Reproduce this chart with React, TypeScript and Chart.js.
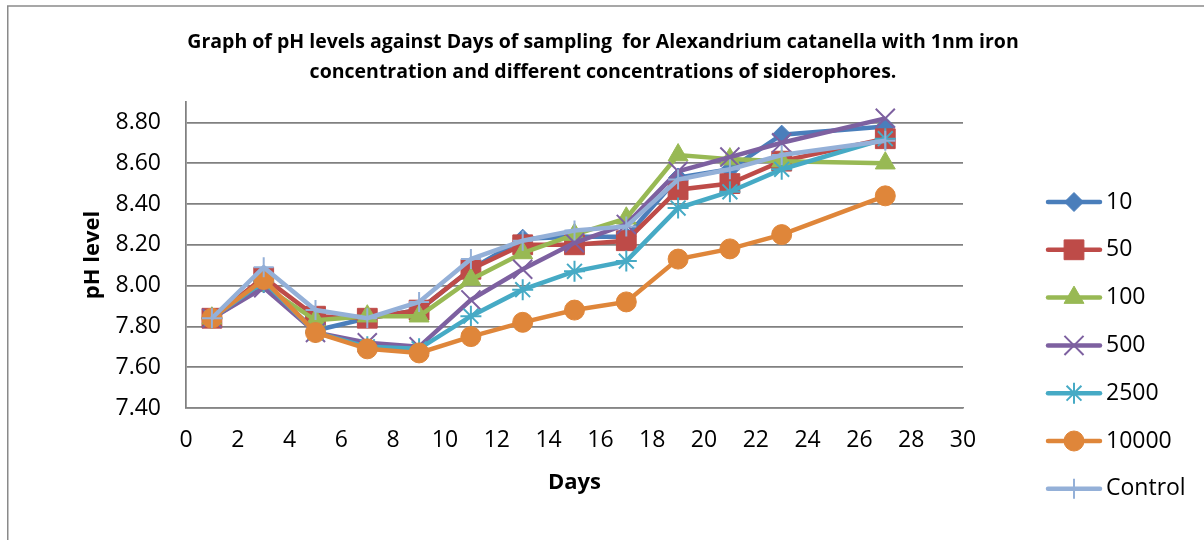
import { useEffect, useRef } from "react";
import { Chart, registerables } from "chart.js";
import * as helpers from "chart.js/helpers";

Chart.register(...registerables);

// ---- data ----
const days = [1, 3, 5, 7, 9, 11, 13, 15, 17, 19, 21, 23, 27];
const seriesLabels = ["10", "50", "100", "500", "2500", "10000", "Control"];
const ph10 = [7.84, 8.01, 7.78, 7.84, 7.88, 8.08, 8.23, 8.24, 8.24, 8.53, 8.57, 8.74, 8.78];
const ph50 = [7.84, 8.04, 7.85, 7.84, 7.88, 8.08, 8.2, 8.2, 8.22, 8.47, 8.5, 8.61, 8.72];
const ph100 = [7.84, 8.0, 7.83, 7.85, 7.85, 8.03, 8.16, 8.25, 8.33, 8.64, 8.62, 8.61, 8.6];
const ph500 = [7.84, 7.99, 7.77, 7.72, 7.7, 7.93, 8.08, 8.21, 8.3, 8.56, 8.63, 8.7, 8.82];
const ph2500 = [7.84, 8.02, 7.77, 7.7, 7.69, 7.85, 7.98, 8.07, 8.12, 8.38, 8.46, 8.57, 8.72];
const ph10000 = [7.84, 8.03, 7.77, 7.69, 7.67, 7.75, 7.82, 7.88, 7.92, 8.13, 8.18, 8.25, 8.44];
const phControl = [7.84, 8.09, 7.88, 7.84, 7.92, 8.13, 8.22, 8.27, 8.29, 8.52, 8.57, 8.64, 8.71];
const seriesValues = [ph10, ph50, ph100, ph500, ph2500, ph10000, phControl];
const yTickValues = [7.4, 7.6, 7.8, 8.0, 8.2, 8.4, 8.6, 8.8];
const titleLines = [
  "Graph of pH levels against Days of sampling  for Alexandrium catanella with 1nm iron",
  "concentration and different concentrations of siderophores.",
];
const xTitle = "Days";
const yTitle = "pH level";

// ---- styles ----
const colors = ["#4A7EBB", "#BE4B48", "#98B954", "#7D60A0", "#46AAC5", "#DF863A", "#94B0D8"];
const pointStyles = ["rectRot", "rect", "triangle", "crossRot", "star", "circle", "cross"];
const pointRadii = [9.5, 14, 11.5, 13.5, 10.5, 10, 10];
const pointBorderWidths = [1, 1, 1, 2, 2, 1, 2];
const FONT = '"Open Sans", "Noto Sans", sans-serif';

const framePlugin = {
  id: "frame",
  beforeDraw(chart: any) {
    const ctx = chart.ctx;
    ctx.save();
    ctx.strokeStyle = "#8a8a8a";
    ctx.lineWidth = 1.5;
    ctx.beginPath();
    ctx.moveTo(7.75, 540);
    ctx.lineTo(7.75, 6);
    ctx.lineTo(1204, 6);
    ctx.stroke();
    ctx.restore();
  },
};

const titlePlugin = {
  id: "excelTitle",
  afterDraw(chart: any) {
    const ctx = chart.ctx;
    ctx.save();
    ctx.fillStyle = "#000";
    ctx.font = `bold 19.5px ${FONT}`;
    ctx.textAlign = "center";
    ctx.textBaseline = "middle";
    titleLines.forEach((t, i) => ctx.fillText(t, 603, 42 + i * 30));
    ctx.restore();
  },
};

const legendPlugin = {
  id: "excelLegend",
  afterDraw(chart: any) {
    const ctx = chart.ctx;
    chart.data.datasets.forEach((ds: any, i: number) => {
      const y = 202 + i * 47.8;
      ctx.save();
      ctx.strokeStyle = ds.borderColor;
      ctx.lineWidth = ds.borderWidth;
      ctx.lineCap = "round";
      ctx.beginPath();
      ctx.moveTo(1048, y);
      ctx.lineTo(1100, y);
      ctx.stroke();
      ctx.fillStyle = ds.pointBackgroundColor;
      ctx.strokeStyle = ds.pointBorderColor;
      ctx.lineWidth = ds.pointBorderWidth;
      ctx.lineCap = "butt";
      helpers.drawPoint(
        ctx,
        { pointStyle: ds.pointStyle, radius: ds.pointRadius, rotation: 0, borderWidth: ds.pointBorderWidth },
        1074,
        y
      );
      ctx.fillStyle = "#000";
      ctx.font = `23px ${FONT}`;
      ctx.textAlign = "left";
      ctx.textBaseline = "middle";
      ctx.fillText(ds.label, 1106, y);
      ctx.restore();
    });
  },
};

export default function App() {
  const canvasRef = useRef<HTMLCanvasElement | null>(null);

  useEffect(() => {
    if (!canvasRef.current) return;
    const n = seriesLabels.length;
    const chart = new Chart(canvasRef.current, {
      type: "line",
      data: {
        datasets: seriesLabels.map((label, i) => ({
          label,
          data: days.map((d, j) => ({ x: d, y: seriesValues[i][j] })),
          borderColor: colors[i],
          backgroundColor: colors[i],
          borderWidth: 4.5,
          pointStyle: pointStyles[i] as any,
          pointRadius: pointRadii[i],
          pointHoverRadius: pointRadii[i],
          pointBackgroundColor: colors[i],
          pointBorderColor: colors[i],
          pointBorderWidth: pointBorderWidths[i],
          tension: 0,
          order: n - 1 - i,
        })),
      },
      options: {
        animation: false,
        responsive: false,
        devicePixelRatio: 1,
        layout: { padding: { left: 0, top: 102, right: 241, bottom: 0 } },
        plugins: {
          legend: { display: false },
          title: { display: false },
          tooltip: { enabled: false },
        },
        scales: {
          x: {
            type: "linear",
            min: 0,
            max: 30,
            ticks: {
              stepSize: 2,
              padding: 19,
              color: "#000",
              font: { family: FONT, size: 23 },
              maxRotation: 0,
              autoSkip: false,
            },
            grid: { display: false, drawTicks: false },
            border: { display: true, color: "#868686", width: 1.5 },
            title: {
              display: true,
              text: xTitle,
              color: "#000",
              font: { family: FONT, size: 22, weight: "bold" },
              padding: { top: 0, bottom: 44 },
            },
            afterFit: (s: any) => {
              s.height = 132;
            },
          },
          y: {
            type: "linear",
            min: 7.4,
            max: 8.9,
            afterBuildTicks: (s: any) => {
              s.ticks = yTickValues.map((v) => ({ value: v }));
            },
            ticks: {
              padding: 25,
              color: "#000",
              font: { family: FONT, size: 23 },
              callback: (v: any) => Number(v).toFixed(2),
            },
            grid: { color: "#808080", lineWidth: 1.75, drawTicks: false },
            border: { display: true, color: "#808080", width: 1.75 },
            title: {
              display: true,
              text: yTitle,
              color: "#000",
              font: { family: FONT, size: 22, weight: "bold" },
              padding: { top: 80, bottom: 0 },
            },
            afterFit: (s: any) => {
              s.width = 186;
            },
          },
        },
      },
      plugins: [framePlugin, titlePlugin, legendPlugin],
    });
    return () => chart.destroy();
  }, []);

  return (
    <div style={{ position: "absolute", left: 0, top: 0, width: 1204, height: 540, background: "#fff" }}>
      <canvas ref={canvasRef} width={1204} height={540} style={{ display: "block" }} />
    </div>
  );
}
